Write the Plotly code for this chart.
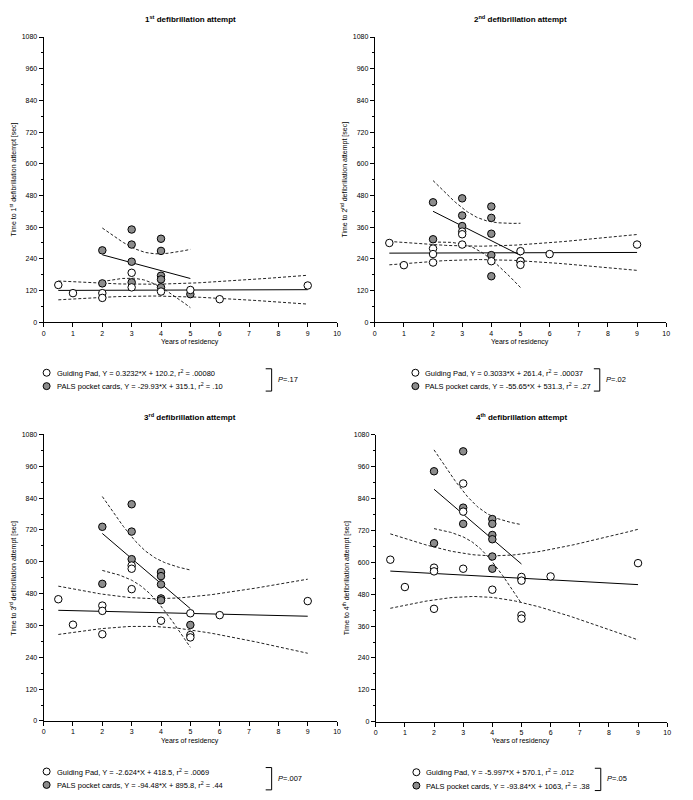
import numpy as np
import plotly.graph_objects as go

# ---------------- data ----------------
TITLES = ["1<sup>st</sup> defibrillation attempt", "2<sup>nd</sup> defibrillation attempt",
          "3<sup>rd</sup> defibrillation attempt", "4<sup>th</sup> defibrillation attempt"]
YTITLES = ["Time to 1<sup>st</sup> defibrillation attempt [sec]",
           "Time to 2<sup>nd</sup> defibrillation attempt [sec]",
           "Time to 3<sup>rd</sup> defibrillation attempt [sec]",
           "Time to 4<sup>th</sup> defibrillation attempt [sec]"]
XTITLE = "Years of residency"
X_TICKS = list(range(0, 11))
Y_TICKS = list(range(0, 1081, 120))

GP_SLOPE = [0.3232, 0.3033, -2.624, -5.997]
GP_INT = [120.2, 261.4, 418.5, 570.1]
GP_R2 = [".00080", ".00037", ".0069", ".012"]
PALS_SLOPE = [-29.93, -55.65, -94.48, -93.84]
PALS_INT = [315.1, 531.3, 895.8, 1063]
PALS_R2 = [".10", ".27", ".44", ".38"]
P_VALUES = ["=.17", "=.02", "=.007", "=.05"]

# Guiding Pad (white) points
gp1_x = [0.5, 1, 2, 2, 3, 3, 4, 5, 6, 9]
gp1_y = [141, 110, 110, 92, 187, 132, 116, 122, 87, 139]
gp2_x = [0.5, 1, 2, 2, 2, 3, 3, 3, 4, 5, 5, 5, 6, 9]
gp2_y = [300, 216, 279, 258, 226, 343, 333, 294, 231, 269, 231, 217, 258, 294]
gp3_x = [0.5, 1, 2, 2, 2, 3, 3, 3, 4, 5, 5, 5, 6, 9]
gp3_y = [459, 363, 435, 415, 327, 586, 574, 497, 378, 406, 324, 315, 399, 452]
gp4_x = [0.5, 1, 2, 2, 2, 3, 3, 3, 4, 5, 5, 5, 5, 6, 9]
gp4_y = [610, 507, 580, 566, 425, 897, 791, 576, 497, 545, 531, 401, 388, 547, 597]

# PALS pocket cards (grey) points
pc1_x = [2, 2, 3, 3, 3, 3, 4, 4, 4, 4, 4, 5]
pc1_y = [272, 147, 351, 294, 229, 151, 316, 270, 176, 162, 132, 106]
pc2_x = [2, 2, 3, 3, 3, 4, 4, 4, 4, 4, 5]
pc2_y = [454, 314, 469, 404, 364, 438, 395, 335, 254, 174, 231]
pc3_x = [2, 2, 3, 3, 3, 4, 4, 4, 4, 4, 5]
pc3_y = [732, 517, 817, 714, 610, 561, 546, 515, 462, 455, 362]
pc4_x = [2, 2, 3, 3, 3, 4, 4, 4, 4, 4, 4, 5]
pc4_y = [943, 672, 1018, 806, 745, 763, 745, 703, 687, 622, 576, 538]

GP_X = [gp1_x, gp2_x, gp3_x, gp4_x]
GP_Y = [gp1_y, gp2_y, gp3_y, gp4_y]
PC_X = [pc1_x, pc2_x, pc3_x, pc4_x]
PC_Y = [pc1_y, pc2_y, pc3_y, pc4_y]

T975 = {6: 2.447, 7: 2.365, 8: 2.306, 9: 2.262, 10: 2.228, 11: 2.201, 12: 2.179, 13: 2.160, 14: 2.145}

# ---------------- layout geometry (pixels) ----------------
W, H = 693, 800
PANELS = [(42, 338, 33.3, 321), (376, 670, 33.3, 321),
          (42, 338, 434.3, 723.3), (377, 671, 434.7, 724)]
FONT = "Liberation Sans, Arial, sans-serif"
GREY = "#8c8c8c"


def px(x):
    return x / W


def py(y):
    return 1 - y / H


def fit_band(x, y, slope, icpt):
    x = np.asarray(x, float)
    y = np.asarray(y, float)
    n = len(x)
    resid = y - (slope * x + icpt)
    s = np.sqrt(np.sum(resid ** 2) / (n - 2))
    xm = x.mean()
    sxx = np.sum((x - xm) ** 2)
    grid = np.linspace(x.min(), x.max(), 80)
    line = slope * grid + icpt
    half = T975[n - 2] * s * np.sqrt(1 / n + (grid - xm) ** 2 / sxx)
    return grid, line, line - half, line + half


def ann(text, x, y, size, xanchor="center", angle=0):
    return dict(text=text, x=px(x), y=py(y), xref="paper", yref="paper",
                xanchor=xanchor, yanchor="middle", showarrow=False, textangle=angle,
                font=dict(family=FONT, size=size, color="black"))


fig = go.Figure()
annotations = []
shapes = []

for i in range(4):
    x0, x1, y0, y1 = PANELS[i]
    xa = "x" if i == 0 else f"x{i+1}"
    ya = "y" if i == 0 else f"y{i+1}"
    xkey = "xaxis" if i == 0 else f"xaxis{i+1}"
    ykey = "yaxis" if i == 0 else f"yaxis{i+1}"

    # regression lines and 95% confidence bands
    for xs, ys, sl, ic in [(GP_X[i], GP_Y[i], GP_SLOPE[i], GP_INT[i]),
                           (PC_X[i], PC_Y[i], PALS_SLOPE[i], PALS_INT[i])]:
        g, ln, lo, hi = fit_band(xs, ys, sl, ic)
        for yy, dash in [(lo, "3px,2px"), (hi, "3px,2px"), (ln, "solid")]:
            fig.add_trace(go.Scatter(x=g, y=yy, mode="lines", xaxis=xa, yaxis=ya,
                                     line=dict(color="#222222" if dash != "solid" else "black",
                                               width=1, dash=dash),
                                     showlegend=False, hoverinfo="skip"))
    # points
    fig.add_trace(go.Scatter(x=PC_X[i], y=PC_Y[i], mode="markers", xaxis=xa, yaxis=ya,
                             marker=dict(size=7.5, color=GREY, line=dict(color="black", width=1)),
                             showlegend=False))
    fig.add_trace(go.Scatter(x=GP_X[i], y=GP_Y[i], mode="markers", xaxis=xa, yaxis=ya,
                             marker=dict(size=7.5, color="white", line=dict(color="black", width=1)),
                             showlegend=False))

    axis_common = dict(showgrid=False, zeroline=False, showline=True, linecolor="black",
                       linewidth=1, ticks="outside", tickcolor="black", ticklen=4, tickwidth=1,
                       tickfont=dict(family=FONT, size=7, color="black"))
    fig.update_layout({
        xkey: dict(domain=[px(x0), px(x1)], anchor=ya, range=[0, 10], tickvals=X_TICKS,
                   **axis_common),
        ykey: dict(domain=[py(y1), py(y0)], anchor=xa, range=[0, 1080], tickvals=Y_TICKS,
                   minor=dict(tickvals=list(range(60, 1080, 120)), ticks="outside",
                              ticklen=2, tickcolor="black"),
                   **axis_common),
    })

    cx = (x0 + x1) / 2
    annotations.append(ann("<b>" + TITLES[i] + "</b>", cx, y0 - 18, 8))
    annotations.append(ann(YTITLES[i], x0 - 30, (y0 + y1) / 2, 7, angle=-90))
    annotations.append(ann(XTITLE, cx, y1 + 20, 7))

    # legend rows
    lx = x0 + 3 if i % 2 == 0 else x0 + 41
    r1 = y1 + 51
    r2 = r1 + 13.5
    rows = [(r1, "white", f"Guiding Pad, Y = {GP_SLOPE[i]:g}*X + {GP_INT[i]:g}, r<sup>2</sup> = {GP_R2[i]}"),
            (r2, GREY, f"PALS pocket cards, Y = {PALS_SLOPE[i]:g}*X + {PALS_INT[i]:g}, r<sup>2</sup> = {PALS_R2[i]}")]
    for ry, col, txt in rows:
        shapes.append(dict(type="circle", xref="paper", yref="paper",
                           xsizemode="pixel", ysizemode="pixel",
                           xanchor=px(lx), yanchor=py(ry), x0=-3.5, x1=3.5, y0=-3.5, y1=3.5,
                           fillcolor=col, line=dict(color="black", width=1)))
        annotations.append(ann(txt, lx + 8, ry, 7.5, xanchor="left"))
    bx = lx + 227 if i % 2 == 0 else lx + 186
    shapes.append(dict(type="path", xref="paper", yref="paper",
                       path=f"M {px(bx-6)},{py(r1-4)} L {px(bx)},{py(r1-4)} L {px(bx)},{py(r2+5)} L {px(bx-6)},{py(r2+5)}",
                       line=dict(color="black", width=1)))
    annotations.append(ann("<i>P</i>" + P_VALUES[i], bx + 4, (r1 + r2) / 2, 7.5, xanchor="left"))

fig.update_layout(width=W, height=H, margin=dict(l=0, r=0, t=0, b=0),
                  plot_bgcolor="white", paper_bgcolor="white", showlegend=False,
                  annotations=annotations, shapes=shapes)

fig.write_html("out.html", config={"displayModeBar": False},
               post_script="document.body.style.margin='0px';document.body.style.overflow='hidden';")
